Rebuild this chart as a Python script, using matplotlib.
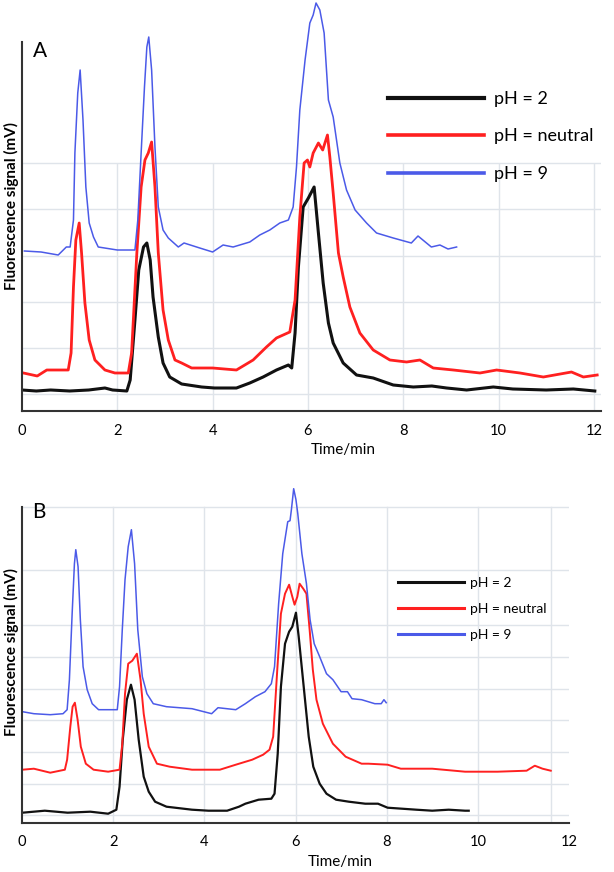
import numpy as np
import matplotlib.pyplot as plt

plt.rcParams['font.family'] = ['Lato', 'DejaVu Sans']

# ---- panel A (signal in arbitrary units) ----
tA_ph2 = [0, 0.3, 0.6, 1.0, 1.4, 1.74, 1.9, 2.2, 2.27, 2.37, 2.45, 2.55, 2.62, 2.69, 2.75, 2.86, 2.96,
          3.1, 3.35, 3.77, 4.04, 4.5, 4.78, 5.06, 5.34, 5.59, 5.66, 5.73, 5.8, 5.9, 6.01, 6.13, 6.22,
          6.32, 6.43, 6.53, 6.74, 7.02, 7.37, 7.79, 8.21, 8.6, 8.91, 9.33, 9.89, 10.3, 11.0, 11.57, 12.02]
yA_ph2 = [21, 20, 21, 20, 21, 23, 21, 20, 31, 91, 141, 164, 168, 151, 114, 74, 48,
          34, 27, 24, 23, 23, 28, 34, 41, 46, 43, 78, 144, 204, 213, 224, 178,
          128, 88, 68, 48, 36, 33, 26, 24, 25, 23, 21, 24, 22, 21, 22, 20]

tA_neu = [0.03, 0.32, 0.52, 0.73, 0.97, 1.03, 1.08, 1.13, 1.2, 1.25, 1.32, 1.41, 1.53, 1.74, 1.95,
          2.23, 2.3, 2.41, 2.5, 2.58, 2.65, 2.72, 2.79, 2.86, 2.96, 3.07, 3.21, 3.35, 3.56, 4.0,
          4.5, 4.85, 5.13, 5.34, 5.62, 5.73, 5.83, 5.92, 5.99, 6.04, 6.11, 6.22, 6.31, 6.41, 6.46,
          6.53, 6.64, 6.74, 6.88, 7.09, 7.37, 7.72, 8.07, 8.35, 8.63, 9.05, 9.61, 9.96, 10.45,
          10.94, 11.53, 11.78, 12.07]
yA_neu = [38, 35, 41, 41, 41, 58, 124, 171, 188, 158, 108, 71, 51, 41, 38,
          38, 58, 158, 224, 251, 258, 269, 224, 158, 101, 71, 51, 48, 43, 43,
          41, 51, 64, 73, 79, 111, 194, 248, 251, 244, 258, 268, 261, 276, 254,
          218, 158, 134, 104, 78, 61, 51, 49, 51, 43, 41, 38, 41, 38,
          34, 39, 34, 36]

tA_ph9 = [0.05, 0.4, 0.76, 0.93, 1.01, 1.08, 1.11, 1.17, 1.22, 1.28, 1.34, 1.41, 1.5, 1.6, 2.0,
          2.37, 2.43, 2.5, 2.57, 2.62, 2.66, 2.72, 2.79, 2.86, 2.96, 3.07, 3.28, 3.4, 3.73, 4.0,
          4.22, 4.43, 4.78, 4.99, 5.2, 5.41, 5.59, 5.69, 5.76, 5.83, 5.94, 6.04, 6.11, 6.17, 6.25,
          6.34, 6.43, 6.53, 6.67, 6.81, 6.99, 7.23, 7.44, 7.79, 8.17, 8.31, 8.59, 8.77, 8.94, 9.12]
yA_ph9 = [160, 159, 156, 164, 164, 191, 258, 318, 341, 291, 224, 188, 174, 164, 161,
          161, 191, 258, 324, 364, 374, 341, 264, 204, 181, 173, 164, 168, 163, 159,
          166, 164, 169, 176, 181, 188, 191, 204, 244, 301, 351, 388, 396, 408, 401,
          378, 311, 294, 248, 221, 201, 188, 178, 173, 168, 175, 164, 166, 162, 164]

# ---- panel B ----
tB_ph2 = [0.01, 0.5, 1.0, 1.5, 1.89, 2.07, 2.14, 2.21, 2.3, 2.39, 2.47, 2.56, 2.67, 2.78, 2.92,
          3.17, 3.73, 4.09, 4.5, 4.76, 4.9, 5.19, 5.47, 5.54, 5.61, 5.68, 5.77, 5.86, 5.93, 6.01,
          6.07, 6.18, 6.29, 6.39, 6.53, 6.68, 6.89, 7.17, 7.53, 7.81, 8.02, 8.65, 9.0, 9.36, 9.72, 9.8]
yB_ph2 = [10, 12, 10, 11, 9, 13, 36, 83, 123, 138, 123, 83, 46, 31, 21,
          16, 13, 12, 12, 16, 19, 23, 24, 29, 69, 136, 179, 191, 196, 210,
          186, 136, 86, 56, 39, 29, 23, 21, 19, 19, 15, 13, 12, 13, 12, 12]

tB_neu = [0.01, 0.26, 0.62, 0.94, 0.99, 1.06, 1.11, 1.16, 1.22, 1.29, 1.4, 1.57, 1.89, 2.14, 2.2,
          2.26, 2.33, 2.42, 2.52, 2.6, 2.67, 2.78, 2.96, 3.24, 3.73, 4.34, 4.69, 5.05, 5.29, 5.43,
          5.51, 5.6, 5.68, 5.77, 5.86, 5.93, 5.98, 6.04, 6.09, 6.17, 6.24, 6.31, 6.38, 6.46, 6.6,
          6.82, 7.1, 7.45, 7.6, 8.02, 8.31, 9.0, 9.72, 10.43, 11.07, 11.25, 11.42, 11.6]
yB_neu = [53, 54, 50, 53, 63, 96, 116, 120, 103, 76, 59, 53, 51, 53, 79,
          129, 159, 162, 169, 143, 109, 76, 59, 56, 53, 53, 58, 63, 68, 73,
          86, 153, 209, 229, 238, 226, 218, 226, 239, 234, 229, 193, 153, 123, 99,
          79, 66, 59, 59, 58, 54, 54, 51, 51, 52, 57, 54, 52]

tB_ph9 = [0.01, 0.26, 0.62, 0.9, 0.99, 1.04, 1.1, 1.15, 1.18, 1.23, 1.28, 1.34, 1.43, 1.54, 1.68,
          1.96, 2.09, 2.14, 2.2, 2.26, 2.33, 2.4, 2.47, 2.54, 2.64, 2.74, 2.88, 3.17, 3.73, 4.16,
          4.3, 4.69, 4.9, 5.12, 5.33, 5.47, 5.54, 5.63, 5.72, 5.83, 5.88, 5.91, 5.96, 6.01, 6.05,
          6.14, 6.24, 6.32, 6.41, 6.53, 6.68, 6.82, 7.0, 7.14, 7.24, 7.45, 7.74, 7.88, 7.94, 7.99]
yB_ph9 = [111, 109, 108, 109, 113, 143, 209, 259, 273, 256, 203, 156, 133, 119, 113,
          113, 113, 136, 193, 243, 276, 293, 259, 193, 146, 129, 119, 116, 114, 109,
          115, 113, 119, 126, 131, 139, 156, 219, 269, 301, 302, 313, 334, 323, 309,
          269, 239, 203, 179, 166, 149, 143, 131, 131, 124, 123, 119, 119, 123, 120]

labels = ['pH = 2', 'pH = neutral', 'pH = 9']
colors = ['#111111', '#ff2020', '#4b5ae8']
xticks = [0, 2, 4, 6, 8, 10, 12]

fig = plt.figure(figsize=(6.14, 8.72), dpi=100)
W, H = 614, 872

def px_axes(left, top, right, bottom):
    return fig.add_axes([left / W, 1 - bottom / H, (right - left) / W, (bottom - top) / H])

def style(ax, spine_top, hgrid, vgrid, vgrid_frac):
    for s in ['top', 'right']:
        ax.spines[s].set_visible(False)
    for s in ['bottom', 'left']:
        ax.spines[s].set_color('#333333')
        ax.spines[s].set_linewidth(1.5)
    ax.spines['left'].set_bounds(0, spine_top)
    ax.set_yticks([])
    ax.set_xticks(xticks)
    ax.tick_params(axis='x', length=0, pad=9, labelsize=10.5)
    for v in hgrid:
        ax.axhline(v, color='#dfe4ea', lw=1, zorder=0)
    for x in vgrid:
        ax.axvline(x, ymax=vgrid_frac, color='#dfe4ea', lw=1, zorder=0)
    ax.set_xlabel('Time/min', fontsize=11)
    ax.set_ylabel('Fluorescence signal (mV)', fontsize=11, fontweight='bold')

# panel A
axA = px_axes(22, 0, 601, 411)
axA.plot(tA_ph2, yA_ph2, color=colors[0], lw=2.2, label=labels[0])
axA.plot(tA_neu, yA_neu, color=colors[1], lw=2.0, label=labels[1])
axA.plot(tA_ph9, yA_ph9, color=colors[2], lw=1.1, label=labels[2])
axA.set_xlim(0, 12.15)
axA.set_ylim(0, 411)
style(axA, 369, [17, 63, 109, 155, 202, 248], [2, 4, 6, 8, 10, 12], 0.6)
axA.xaxis.set_label_coords(0.554, -0.078)
axA.yaxis.set_label_coords(-0.006, 0.5)
axA.text(0.019, 0.876, 'A', transform=axA.transAxes, fontsize=15, va='center')
legA = axA.legend(loc='upper left', bbox_to_anchor=(0.632, 0.779), frameon=False,
                  borderpad=0, borderaxespad=0, fontsize=13, handlelength=5.3,
                  handletextpad=0.55, labelspacing=1.2)
for line, lw in zip(legA.get_lines(), [3, 2.6, 2.6]):
    line.set_linewidth(lw)

# panel B
axB = px_axes(22, 470, 569, 822.7)
axB.plot(tB_ph2, yB_ph2, color=colors[0], lw=1.6, label=labels[0])
axB.plot(tB_neu, yB_neu, color=colors[1], lw=1.4, label=labels[1])
axB.plot(tB_ph9, yB_ph9, color=colors[2], lw=1.1, label=labels[2])
axB.set_xlim(0, 11.62)
axB.set_ylim(0, 352.7)
style(axB, 316, [8, 39, 71, 103, 134, 166, 198, 253, 316], [2, 4, 6, 8, 10, 11.6], 0.895)
axB.xaxis.set_label_coords(0.581, -0.092)
axB.yaxis.set_label_coords(-0.006, 0.484)
axB.text(0.018, 0.881, 'B', transform=axB.transAxes, fontsize=15, va='center')
legB = axB.legend(loc='upper left', bbox_to_anchor=(0.687, 0.697), frameon=False,
                  borderpad=0, borderaxespad=0, fontsize=10, handlelength=4.75,
                  handletextpad=0.43, labelspacing=1.0)
for line in legB.get_lines():
    line.set_linewidth(2.2)

fig.savefig('out.png', dpi=100)
